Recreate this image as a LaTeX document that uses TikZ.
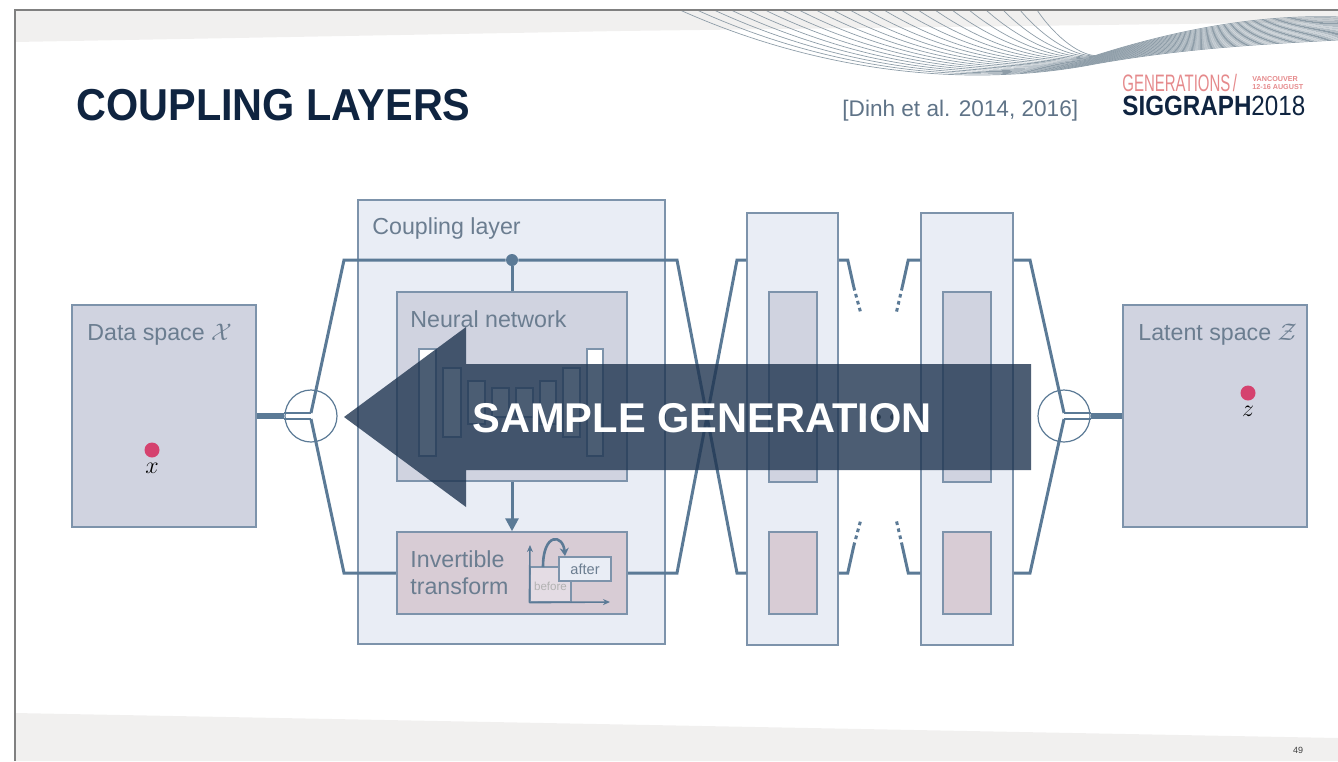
\documentclass[tikz,border=0pt]{standalone}
\usepackage{fontspec}
\setmainfont{Liberation Sans}
\usepackage{graphicx}
\usetikzlibrary{arrows.meta,calc,fit,positioning}

\definecolor{navy}{HTML}{0F2440}
\definecolor{steel}{HTML}{5B7A96}
\definecolor{frameline}{HTML}{7D93AB}
\definecolor{labelgray}{HTML}{6B7D90}
\definecolor{refgray}{HTML}{5F7387}
\definecolor{panelfill}{HTML}{E9EDF5}
\definecolor{netfill}{HTML}{D0D3E0}
\definecolor{flowfill}{HTML}{D8CCD5}
\definecolor{beforefill}{HTML}{E4DCE4}
\definecolor{dotred}{HTML}{D5426F}
\definecolor{bannerfill}{HTML}{1F3550}
\definecolor{genpink}{HTML}{E58A8C}
\definecolor{bandgray}{HTML}{F1F0EF}
\definecolor{wavegray}{HTML}{8E9DA8}

\begin{document}
\begin{tikzpicture}[
  x=0.5pt,
  y=-0.5pt,
  >=Stealth,
  panel/.style={draw=frameline, line width=0.75pt, fill=panelfill, inner sep=0pt},
  spacebox/.style={panel, fill=netfill},
  netbox/.style={panel, fill=netfill},
  flowbox/.style={panel, fill=flowfill},
  boxtitle/.style={anchor=base west, inner sep=0pt, text=labelgray, font=\fontsize{11.6}{13.5}\selectfont},
  wire/.style={draw=steel, line width=1.5pt},
  twin/.style={draw=steel, line width=1pt},
  feed/.style={draw=steel, line width=3pt},
  stub/.style={draw=steel, line width=1.5pt, dash pattern=on 1.8pt off 1.8pt},
  bar/.style={draw=frameline, fill=white, line width=0.6pt},
  hub/.style={circle, draw=steel, fill=white, line width=0.6pt, minimum size=26pt, inner sep=0pt},
  sample/.style={circle, fill=dotred, minimum size=7.5pt, inner sep=0pt},
  junction/.style={circle, fill=steel, minimum size=6pt, inner sep=0pt}
]
  \useasboundingbox (0,0) rectangle (1338,761);

  % slide background
  \fill[bandgray] (15,10) -- (1338,10) -- (1338,22) -- (620,31) -- (15,42) -- cycle;
  \fill[bandgray] (15,713) -- (1338,738) -- (1338,761) -- (15,761) -- cycle;
  \foreach \i in {0,...,21}
    \draw[wavegray, line width=0.35pt]
      (680+17*\i,10) .. controls (800+12*\i,64-1.5*\i) and (950+6*\i,92-1.8*\i) ..
      (1095,64-0.4*\i) .. controls (1185,48-1*\i) and (1265,44-1.4*\i) .. (1338,40-1.1*\i);
  \draw[gray, line width=1pt] (15,761) -- (15,10) -- (1338,10);

  % header
  \node[anchor=base west, inner sep=0pt, text=navy, font=\bfseries\fontsize{20.7}{24}\selectfont] (title) at (76,120) {\scalebox{1}[1.08]{COUPLING LAYERS}};
  \node[anchor=base west, inner sep=0pt, text=refgray, font=\fontsize{11.3}{13}\selectfont] (cite) at (842,116) {[Dinh et al. 2014, 2016]};
  \node[anchor=base west, inner sep=0pt, text=genpink, font=\fontsize{11.9}{13}\selectfont] (gen) at (1122,91) {\scalebox{0.63}[1]{GENERATIONS\,/}};
  \node[anchor=south west, inner sep=0pt, text=genpink, align=left, font=\bfseries\fontsize{3.6}{4}\selectfont] (venue) at (1252,90) {VANCOUVER\\12-16 AUGUST};
  \node[anchor=base west, inner sep=0pt, text=navy, font=\fontsize{12.1}{14}\selectfont] (sig) at (1122,115) {\scalebox{1}[1.15]{\textbf{SIGGRAPH}2018}};
  \node[anchor=base, inner sep=0pt, text=black!75, font=\fontsize{4.5}{5}\selectfont] (page) at (1298,753) {49};

  % data and latent spaces
  \node[spacebox, fit={(72,305) (256,527)}] (data) {};
  \node[boxtitle] at (87,340) {Data space $\mathcal{X}$};
  \node[sample] (xpt) at (152,450) {};
  \node[below=2.5pt of xpt, inner sep=0pt, font=\fontsize{11.5}{13}\selectfont] {$x$};

  \node[spacebox, fit={(1123,305) (1307,527)}] (latent) {};
  \node[boxtitle] at (1138,340) {Latent space $\mathcal{Z}$};
  \node[sample] (zpt) at (1248,393) {};
  \node[below=2.5pt of zpt, inner sep=0pt, font=\fontsize{11.5}{13}\selectfont] {$z$};

  % coupling layer and the stacked copies
  \node[panel, fit={(358,200) (665,644)}] (coupling) {};
  \node[boxtitle] at (372,234) {Coupling layer};
  \node[panel, fit={(747,213) (838,645)}] (colA) {};
  \node[panel, fit={(921,213) (1013,645)}] (colB) {};

  \node[hub] (hubL) at (311,416) {};
  \node[hub] (hubR) at (1064,416) {};
  \node[junction] (split) at (512,260) {};
  \coordinate (upL) at (344,260);
  \coordinate (loL) at (344,573);
  \coordinate (upM) at (677,260);
  \coordinate (loM) at (677,573);
  \coordinate (upN) at (737,260);
  \coordinate (loN) at (737,573);
  \coordinate (upR) at (1030,260);
  \coordinate (loR) at (1030,573);

  \draw[feed] (data) -- (hubL);
  \draw[feed] (hubR) -- (latent);

  \draw[twin] ([yshift=1.5pt]hubL.west) -- ([yshift=1.5pt]hubL.center);
  \draw[twin] ([yshift=-1.5pt]hubL.west) -- ([yshift=-1.5pt]hubL.center);
  \draw[wire] ([yshift=1.5pt]hubL.center) -- (upL) -- (split) -- (upM) -- (loN) -- (colA.west |- loN);
  \draw[wire] ([yshift=-1.5pt]hubL.center) -- (loL) -- (loL -| coupling.east) -- (loM) -- (upN) -- (colA.west |- upN);

  \draw[twin] ([yshift=1.5pt]hubR.center) -- ([yshift=1.5pt]hubR.east);
  \draw[twin] ([yshift=-1.5pt]hubR.center) -- ([yshift=-1.5pt]hubR.east);
  \draw[wire] (colB.east |- upR) -- (upR) -- ([yshift=1.5pt]hubR.center);
  \draw[wire] (colB.east |- loR) -- (loR) -- ([yshift=-1.5pt]hubR.center);

  % open ends between the copies
  \draw[wire] (colA.east |- upN) -- ++(9,0) -- ++(6,27) coordinate (a1);
  \draw[stub] (a1) -- ++(7,26);
  \draw[wire] (colB.west |- upN) -- ++(-12,0) -- ++(-6,27) coordinate (b1);
  \draw[stub] (b1) -- ++(-6,26);
  \draw[wire] (colA.east |- loN) -- ++(9,0) -- ++(6,-27) coordinate (a2);
  \draw[stub] (a2) -- ++(7,-26);
  \draw[wire] (colB.west |- loN) -- ++(-12,0) -- ++(-6,-27) coordinate (b2);
  \draw[stub] (b2) -- ++(-6,-26);
  \foreach \x in {863,878,893}
    \fill[black!70] (\x,417) circle (1.5pt);

  % inner blocks
  \node[netbox, fit={(397,292) (627,481)}] (net) {};
  \node[boxtitle] at (410,327) {Neural network};
  \foreach \xa/\xb/\ya/\yb in {419/436/349/456, 443/461/368/437, 468/485/381/424, 492/509/388/417,
                               516/533/388/417, 540/556/381/424, 563/580/368/437, 587/603/349/456}
    \draw[bar] (\xa,\ya) rectangle (\xb,\yb);
  \draw[wire] (split) -- (net);

  \node[flowbox, fit={(397,532) (627,614)}] (flow) {};
  \node[boxtitle] at (410,567) {Invertible};
  \node[boxtitle] at (410,594) {transform};
  \draw[wire, -{Triangle[length=6.5pt,width=6.5pt]}] (net) -- (flow);

  \node[netbox, fit={(769,292) (817,482)}] (netA) {};
  \node[flowbox, fit={(769,532) (817,614)}] (flowA) {};
  \node[netbox, fit={(943,292) (991,482)}] (netB) {};
  \node[flowbox, fit={(943,532) (991,614)}] (flowB) {};

  % before/after sketch
  \node[draw=frameline, fill=beforefill, line width=0.6pt, inner sep=0pt, fit={(530,567) (571,602)}] (before) {};
  \node[text=black!30, font=\fontsize{5.8}{6}\selectfont, inner sep=0pt] at ([yshift=-1pt]before.center) {before};
  \draw[draw=steel, line width=0.8pt, -{Stealth[length=3.5pt,width=3pt]}] (before.south west) -- (530,545);
  \draw[draw=steel, line width=0.8pt, -{Stealth[length=3.5pt,width=3pt]}] (before.south west) -- (610,602);
  \node[draw=frameline, fill=panelfill, line width=0.75pt, inner sep=0pt, fit={(559,557) (611,581)}] (after) {};
  \node[text=labelgray, font=\fontsize{7.3}{8}\selectfont, inner sep=0pt] at (after.center) {after};
  \draw[draw=steel, line width=1.3pt, -{Stealth[length=4pt,width=4.5pt]}] (543,567) .. controls (543,532) and (563,534) .. (565,556);

  % sampling direction banner
  \fill[bannerfill, opacity=0.8] (344,417) -- (466,327) -- (466,364) -- (1031,364) -- (1031,470) -- (466,470) -- (466,507) -- cycle;
  \node[anchor=base west, inner sep=0pt, text=white, font=\bfseries\fontsize{20.8}{24}\selectfont] (banner) at (472,432) {SAMPLE GENERATION};
\end{tikzpicture}
\end{document}
